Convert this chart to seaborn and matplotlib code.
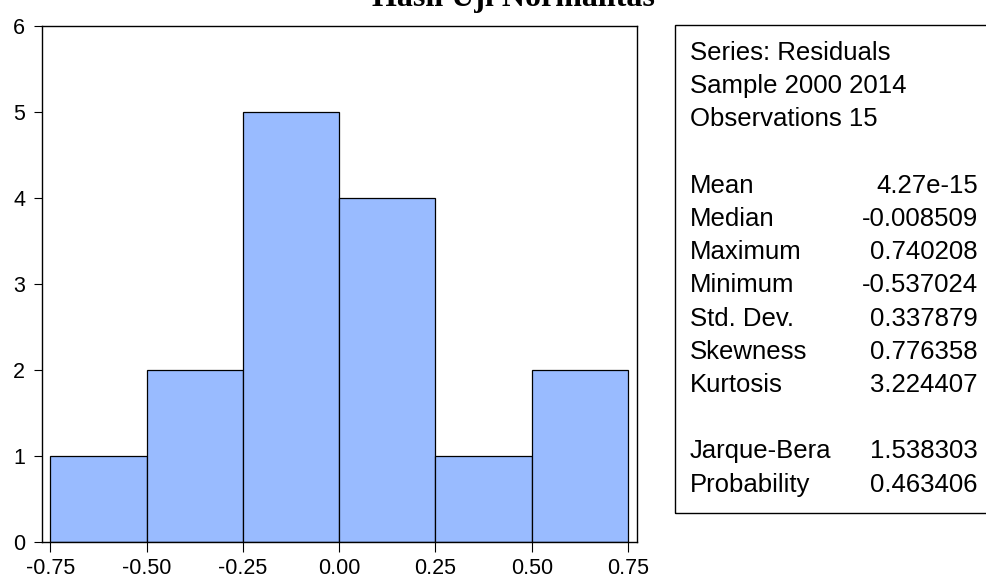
import matplotlib
matplotlib.use("Agg")
import matplotlib.pyplot as plt
import matplotlib.patches as mpatches
import numpy as np
import pandas as pd
import seaborn as sns

# ---- data ----
bin_edges = [-0.75, -0.50, -0.25, 0.00, 0.25, 0.50, 0.75]
counts = [1, 2, 5, 4, 1, 2]
x_ticks = [-0.75, -0.50, -0.25, 0.00, 0.25, 0.50, 0.75]
x_tick_labels = ["-0.75", "-0.50", "-0.25", "0.00", "0.25", "0.50", "0.75"]
y_ticks = [0, 1, 2, 3, 4, 5, 6]
title = "Hasil Uji Normalitas"
header_lines = ["Series: Residuals", "Sample 2000 2014", "Observations 15"]
stat_names = ["Mean", "Median", "Maximum", "Minimum", "Std. Dev.", "Skewness", "Kurtosis"]
stat_values = ["4.27e-15", "-0.008509", "0.740208", "-0.537024", "0.337879", "0.776358", "3.224407"]
test_names = ["Jarque-Bera", "Probability"]
test_values = ["1.538303", "0.463406"]

sns.set_theme(style="ticks")
plt.rcParams["font.family"] = ["Liberation Sans", "DejaVu Sans"]
plt.rcParams["text.color"] = "black"

W, H = 987, 581
fig = plt.figure(figsize=(W / 100, H / 100), dpi=100)
fig.patch.set_facecolor("white")

def fx(px):
    return px / W

def fy(py):
    return 1 - py / H

ax = fig.add_axes([fx(41.7), fy(541.5), fx(637) - fx(41.7), fy(26) - fy(541.5)])
centers = [(bin_edges[i] + bin_edges[i + 1]) / 2 for i in range(len(counts))]
df = pd.DataFrame({"x": centers, "w": counts})
sns.histplot(data=df, x="x", weights="w", bins=bin_edges, color="#99BBFF",
             edgecolor="black", linewidth=0.9, alpha=1.0, ax=ax)

ax.set_xlim(-0.772, 0.773)
ax.set_ylim(0, 6)
ax.set_xticks(x_ticks)
ax.set_xticklabels(x_tick_labels)
ax.set_yticks(y_ticks)
ax.set_xlabel("")
ax.set_ylabel("")
ax.set_facecolor("white")
for s in ax.spines.values():
    s.set_visible(True)
    s.set_color("black")
    s.set_linewidth(1.0)
ax.tick_params(axis="both", direction="out", width=0.8, color="black",
               labelsize=15.5, labelcolor="black")
ax.tick_params(axis="y", length=6, pad=6)
ax.tick_params(axis="x", length=7, pad=5)

# title (partially cut at top, as in the reference)
fig.text(fx(513), fy(6), title, ha="center", va="baseline", color="black",
         family=["Liberation Serif", "DejaVu Serif"], fontweight="bold", fontsize=23)

# stats box
box = mpatches.Rectangle((fx(675), fy(513)), fx(1000) - fx(675), fy(25) - fy(513),
                         transform=fig.transFigure, fill=False, edgecolor="black",
                         linewidth=1.0, clip_on=False)
fig.add_artist(box)

line0 = 53
step = 33.2
fs = 18.5
left_x = fx(690)
right_x = fx(978)
idx = 0
for t in header_lines:
    fig.text(left_x, fy(line0 + step * idx), t, ha="left", va="center", fontsize=fs, color="black")
    idx += 1
idx += 1
for n, v in zip(stat_names, stat_values):
    fig.text(left_x, fy(line0 + step * idx), n, ha="left", va="center", fontsize=fs, color="black")
    fig.text(right_x, fy(line0 + step * idx), v, ha="right", va="center", fontsize=fs, color="black")
    idx += 1
idx += 1
for n, v in zip(test_names, test_values):
    fig.text(left_x, fy(line0 + step * idx), n, ha="left", va="center", fontsize=fs, color="black")
    fig.text(right_x, fy(line0 + step * idx), v, ha="right", va="center", fontsize=fs, color="black")
    idx += 1

fig.savefig("out.png", dpi=100, facecolor="white")
